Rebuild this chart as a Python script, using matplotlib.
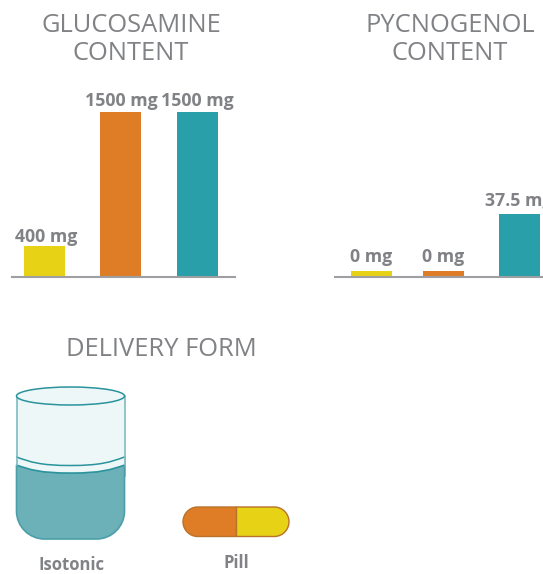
import matplotlib
matplotlib.use("Agg")
import matplotlib.pyplot as plt
from matplotlib.patches import PathPatch, Rectangle, Ellipse
from matplotlib.path import Path

W, H = 543, 574
GREY = "#808285"
AXIS = "#9d9fa2"
YELLOW, ORANGE, TEAL = "#e8d216", "#de7d26", "#29a0a9"
TITLE_FONT = "Open Sans"
LABEL_FONT = "Open Sans"

bar_colors = [YELLOW, ORANGE, TEAL]
glucosamine_labels = ["400 mg", "1500 mg", "1500 mg"]
glucosamine_heights = [31, 165, 165]      # drawn heights
pycnogenol_labels = ["0 mg", "0 mg", "37.5 mg"]
pycnogenol_heights = [6, 6, 63]
glucosamine_pos = [44.5, 120.5, 197.5]
pycnogenol_pos = [371.5, 443.5, 519.5]
glucosamine_label_x = [46.5, 121, 197]
pycnogenol_label_x = [371, 443.5, 519]
glucosamine_lift = [4, 6, 6]
pycnogenol_lift = [8, 8, 7]
form_labels = ["Isotonic", "Pill"]

fig = plt.figure(figsize=(W / 100, H / 100), dpi=100)
bg = fig.add_axes([0, 0, 1, 1])
bg.set_xlim(0, W)
bg.set_ylim(H, 0)
bg.axis("off")


def chart(x0, x1, positions, heights, labels, label_x, lifts):
    base, top = 276.5, 76.5
    ax = fig.add_axes([x0 / W, 1 - base / H, (x1 - x0) / W, (base - top) / H])
    ax.set_xlim(x0, x1)
    ax.set_ylim(0, base - top)
    ax.patch.set_alpha(0)
    ax.bar(positions, heights, width=41, color=bar_colors)
    for s in ("top", "left", "right"):
        ax.spines[s].set_visible(False)
    ax.spines["bottom"].set_color(AXIS)
    ax.spines["bottom"].set_linewidth(1.5)
    ax.set_xticks([])
    ax.set_yticks([])
    for p, h, l, d in zip(label_x, heights, labels, lifts):
        ax.text(p, h + d, l, ha="center", va="baseline", color=GREY,
                family=LABEL_FONT, weight="bold", fontsize=12.8,
                clip_on=False)
    return ax


chart(12, 235, glucosamine_pos, glucosamine_heights, glucosamine_labels,
      glucosamine_label_x, glucosamine_lift)
chart(335, 543, pycnogenol_pos, pycnogenol_heights, pycnogenol_labels,
      pycnogenol_label_x, pycnogenol_lift)

for x, y, t in [(131, 25, "GLUCOSAMINE"), (131, 54, "CONTENT"),
                (450, 25, "PYCNOGENOL"), (450, 54, "CONTENT"),
                (161, 350, "DELIVERY FORM")]:
    bg.text(x, y, t, ha="center", va="center", color=GREY,
            family=TITLE_FONT, fontsize=18.4)

MV, LT, C4, CL = Path.MOVETO, Path.LINETO, Path.CURVE4, Path.CLOSEPOLY
K = 0.5523


def patch(verts, codes, **kw):
    bg.add_patch(PathPatch(Path(verts, codes), **kw))


# --- cup icon
L, R = 16.5, 124.5
CUP_EDGE = "#2a939c"
GLASS = "#eef7f8"
LIQUID = "#6cb0b8"
mid = (L + R) / 2
cr = 28
bg.add_patch(Rectangle((L, 396), R - L, 80, facecolor=GLASS, edgecolor="#7fbcc3", lw=1.2))


def arc(y, drop):
    """Shallow curve across the cup, from left to right."""
    return [(L, y), (L + 14, y + drop * 0.6), (mid - 30, y + drop), (mid, y + drop),
            (mid + 30, y + drop), (R - 14, y + drop * 0.6), (R, y)]


ARC_CODES = [MV, C4, C4, C4, C4, C4, C4]
liquid_verts = arc(465, 8) + [(R, 539 - cr),
                              (R, 539 - cr + K * cr), (R - cr + K * cr, 539), (R - cr, 539),
                              (L + cr, 539),
                              (L + cr - K * cr, 539), (L, 539 - cr + K * cr), (L, 539 - cr),
                              (L, 465)]
liquid_codes = ARC_CODES + [LT, C4, C4, C4, LT, C4, C4, C4, CL]
patch(liquid_verts, liquid_codes, facecolor=LIQUID, edgecolor="#4a9fa8", lw=1.2)
band = arc(457, 8.5) + [(R, 465)] + arc(465, 8)[::-1][1:] + [(L, 457)]
band_codes = ARC_CODES + [LT, C4, C4, C4, C4, C4, C4, CL]
patch(band, band_codes, facecolor=GLASS, edgecolor="none")
patch(arc(457, 8.5), ARC_CODES, facecolor="none", edgecolor=CUP_EDGE, lw=1.1)
patch(arc(465, 8), ARC_CODES, facecolor="none", edgecolor=CUP_EDGE, lw=1.1)
bg.plot([L, L], [457, 465], color="#7fbcc3", lw=1.1)
bg.plot([R, R], [457, 465], color="#7fbcc3", lw=1.1)
bg.add_patch(Ellipse((mid, 396), R - L, 18, facecolor=GLASS, edgecolor=CUP_EDGE, lw=1.1))

# --- pill icon
PL, PR, PT, PB = 183, 289, 507, 536.5
PM, r = 236.5, (PB - PT) / 2
PC = PT + r
PILL_EDGE = "#b9722a"
patch([(PM, PT), (PL + r, PT),
       (PL + r - K * r, PT), (PL, PC - K * r), (PL, PC),
       (PL, PC + K * r), (PL + r - K * r, PB), (PL + r, PB),
       (PM, PB), (PM, PT)],
      [MV, LT, C4, C4, C4, C4, C4, C4, LT, CL],
      facecolor=ORANGE, edgecolor=PILL_EDGE, lw=1)
patch([(PM, PT), (PR - r, PT),
       (PR - r + K * r, PT), (PR, PC - K * r), (PR, PC),
       (PR, PC + K * r), (PR - r + K * r, PB), (PR - r, PB),
       (PM, PB), (PM, PT)],
      [MV, LT, C4, C4, C4, C4, C4, C4, LT, CL],
      facecolor=YELLOW, edgecolor=PILL_EDGE, lw=1)

bg.text(72, 565, form_labels[0], ha="center", va="center", color=GREY,
        family=LABEL_FONT, weight="bold", fontsize=12)
bg.text(236, 563, form_labels[1], ha="center", va="center", color=GREY,
        family=LABEL_FONT, weight="bold", fontsize=12)

fig.savefig("out.png", dpi=100)
